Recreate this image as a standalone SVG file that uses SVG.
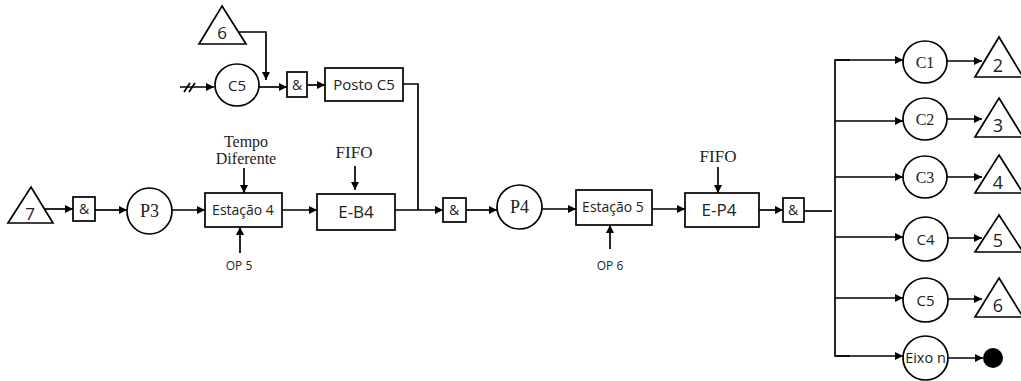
<svg xmlns="http://www.w3.org/2000/svg" width="1021" height="381" viewBox="0 0 1021 381">
<style>
.s{fill:#fff;stroke:#000;stroke-width:1.7}
.l{fill:none;stroke:#000;stroke-width:1.7}
.a{fill:none;stroke:#000;stroke-width:1.7;marker-end:url(#ah)}
.sans{font-family:"Open Sans","DejaVu Sans",sans-serif;fill:#222;text-anchor:middle}
.ser{font-family:"Liberation Serif","DejaVu Serif",serif;fill:#222;text-anchor:middle}
</style>
<defs>
<marker id="ah" viewBox="0 0 10 10" refX="10" refY="5" markerWidth="9" markerHeight="8" markerUnits="userSpaceOnUse" orient="auto">
<path d="M0,0 L10,5 L0,10 z" fill="#000"/>
</marker>
</defs>
<rect width="1021" height="381" fill="#fff"/>

<g id="connectors">
<polyline class="a" points="239,32 266,32 266,80"/>
<line class="a" x1="180" y1="87" x2="214" y2="87"/>
<line class="l" x1="184" y1="92" x2="190" y2="83"/>
<line class="l" x1="189" y1="92" x2="195" y2="83"/>
<line class="a" x1="259" y1="87" x2="287" y2="87"/>
<line class="a" x1="307" y1="85" x2="325" y2="85"/>
<polyline class="l" points="403,84 418,84 418,210"/>
<line class="a" x1="43" y1="209" x2="73" y2="209"/>
<line class="a" x1="95" y1="210" x2="127" y2="210"/>
<line class="a" x1="172" y1="210" x2="205" y2="210"/>
<line class="a" x1="244" y1="168" x2="244" y2="193"/>
<line class="a" x1="240" y1="253" x2="240" y2="227"/>
<line class="a" x1="282" y1="210" x2="317" y2="210"/>
<line class="a" x1="355" y1="166" x2="355" y2="190"/>
<line class="a" x1="395" y1="210" x2="443" y2="210"/>
<line class="a" x1="466" y1="210" x2="497" y2="210"/>
<line class="a" x1="542" y1="209" x2="576" y2="209"/>
<line class="a" x1="610" y1="249" x2="610" y2="225"/>
<line class="a" x1="652" y1="209" x2="685" y2="209"/>
<line class="a" x1="718" y1="167" x2="718" y2="193"/>
<line class="a" x1="759" y1="210" x2="783" y2="210"/>
<line class="l" x1="804" y1="211" x2="832" y2="211"/>
<polyline class="l" points="850,60 835,60 835,356 850,356"/>
<line class="a" x1="835" y1="60" x2="903" y2="60"/>
<line class="a" x1="835" y1="121" x2="903" y2="121"/>
<line class="a" x1="835" y1="177" x2="903" y2="177"/>
<line class="a" x1="835" y1="237" x2="903" y2="237"/>
<line class="a" x1="835" y1="298" x2="903" y2="298"/>
<line class="a" x1="835" y1="356" x2="903" y2="356"/>
<line class="a" x1="947" y1="61" x2="982" y2="61"/>
<line class="a" x1="947" y1="119" x2="982" y2="119"/>
<line class="a" x1="947" y1="177" x2="982" y2="177"/>
<line class="a" x1="948" y1="238" x2="982" y2="238"/>
<line class="a" x1="948" y1="299" x2="982" y2="299"/>
<line class="a" x1="948" y1="358" x2="983" y2="358"/>
</g>

<g id="tri6top"><polygon class="s" points="222,6 246,44 199,44"/><text class="sans" x="222" y="39" font-size="17">6</text></g>
<g id="c5top"><ellipse class="s" cx="237" cy="85" rx="22" ry="21"/><text class="sans" x="237" y="91" font-size="15">C5</text></g>
<g id="and1"><rect class="s" x="287" y="72" width="20" height="25"/><text class="sans" x="297" y="90" font-size="14">&amp;</text></g>
<g id="postoc5"><rect class="s" x="325" y="68" width="78" height="33"/><text class="sans" x="364" y="90" font-size="15">Posto C5</text></g>

<g id="tri7"><polygon class="s" points="31,187 53,223 8,223"/><text class="sans" x="30" y="220" font-size="17">7</text></g>
<g id="and0"><rect class="s" x="73" y="197" width="22" height="24"/><text class="sans" x="84" y="214" font-size="14">&amp;</text></g>
<g id="p3"><ellipse class="s" cx="149.5" cy="211" rx="22.5" ry="23"/><text class="ser" x="149.5" y="217" font-size="18">P3</text></g>
<g id="est4"><rect class="s" x="205" y="193" width="77" height="34"/><text class="sans" x="243" y="215" font-size="14">Estação 4</text></g>
<g id="tempo"><text class="ser" x="246" y="147" font-size="16">Tempo</text><text class="ser" x="246" y="164" font-size="16">Diferente</text></g>
<g id="op5"><text class="sans" x="239" y="270" font-size="12">OP 5</text></g>
<g id="eb4"><rect class="s" x="317" y="194" width="78" height="36"/><text class="sans" x="356" y="218" font-size="17">E-B4</text></g>
<g id="fifo1"><text class="ser" x="354" y="158" font-size="17">FIFO</text></g>

<g id="and2"><rect class="s" x="443" y="198" width="23" height="24"/><text class="sans" x="454" y="215" font-size="14">&amp;</text></g>
<g id="p4"><ellipse class="s" cx="519.5" cy="207" rx="22.5" ry="22"/><text class="ser" x="519.5" y="213" font-size="18">P4</text></g>
<g id="est5"><rect class="s" x="576" y="190" width="76" height="35"/><text class="sans" x="613" y="212" font-size="14">Estação 5</text></g>
<g id="op6"><text class="sans" x="610" y="270" font-size="12">OP 6</text></g>
<g id="ep4"><rect class="s" x="685" y="193" width="74" height="34"/><text class="sans" x="719" y="216" font-size="17">E-P4</text></g>
<g id="fifo2"><text class="ser" x="718" y="162" font-size="17">FIFO</text></g>
<g id="and3"><rect class="s" x="783" y="198" width="21" height="24"/><text class="sans" x="793" y="215" font-size="14">&amp;</text></g>

<g id="c1"><ellipse class="s" cx="925" cy="62" rx="22" ry="21"/><text class="ser" x="925" y="68" font-size="16">C1</text></g>
<g id="c2"><ellipse class="s" cx="925" cy="119" rx="22" ry="21"/><text class="ser" x="925" y="125" font-size="16">C2</text></g>
<g id="c3"><ellipse class="s" cx="925" cy="177" rx="22" ry="21"/><text class="ser" x="925" y="183" font-size="16">C3</text></g>
<g id="c4"><ellipse class="s" cx="925.5" cy="239" rx="22.5" ry="22"/><text class="sans" x="925.5" y="245" font-size="15">C4</text></g>
<g id="c5"><ellipse class="s" cx="925.5" cy="300" rx="22.5" ry="22"/><text class="sans" x="925.5" y="306" font-size="15">C5</text></g>
<g id="eixon"><ellipse class="s" cx="925.5" cy="358" rx="22.5" ry="22"/><text class="sans" x="925.5" y="363" font-size="14.5">Eixo n</text></g>

<g id="t2"><polygon class="s" points="999,37 1023,77 975,77"/><text class="sans" x="998" y="72" font-size="18">2</text></g>
<g id="t3"><polygon class="s" points="999,98 1023,137 975,137"/><text class="sans" x="998" y="132" font-size="18">3</text></g>
<g id="t4"><polygon class="s" points="999,155 1023,193 975,193"/><text class="sans" x="998" y="189" font-size="18">4</text></g>
<g id="t5"><polygon class="s" points="999,215 1023,252 975,252"/><text class="sans" x="998" y="247" font-size="18">5</text></g>
<g id="t6"><polygon class="s" points="999,278 1023,317 975,317"/><text class="sans" x="998" y="312" font-size="18">6</text></g>
<g id="end"><circle cx="993" cy="358" r="10" fill="#000"/></g>
</svg>
